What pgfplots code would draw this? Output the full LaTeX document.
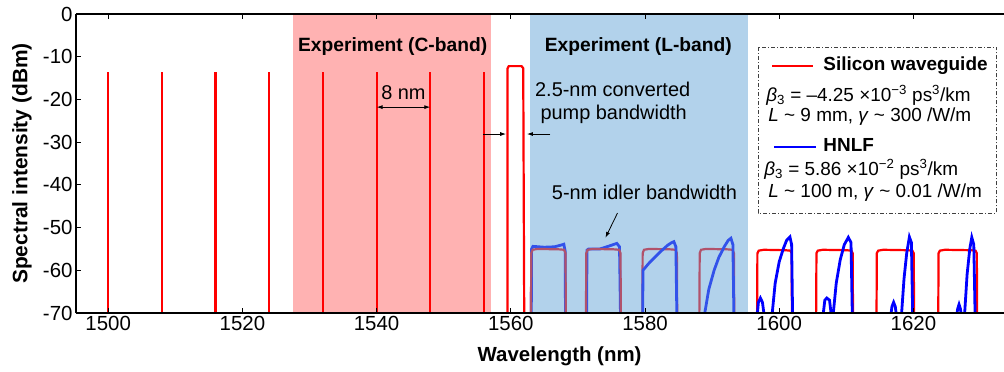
\documentclass[border=0pt]{standalone}
\usepackage{fontspec}
\setmainfont{Liberation Sans}
\usepackage{pgfplots}
\pgfplotsset{compat=1.18}
\usetikzlibrary{arrows.meta}
\definecolor{sigred}{RGB}{255,0,0}
\definecolor{hnlfblue}{RGB}{0,0,255}
\definecolor{cband}{RGB}{255,178,178}
\definecolor{lband}{RGB}{101,165,215}
\begin{document}
\begin{tikzpicture}
\begin{axis}[
 scale only axis, width=930bp, height=299bp,
 xmin=1495.2, xmax=1633.8, ymin=-70, ymax=0,
 axis x line=box, axis y line=left,
 axis line style={-, line width=1.3bp, black},
 xtick={1500,1520,...,1620}, ytick={-70,-60,...,0},
 tick align=inside, major tick length=5bp,
 tick style={black, line width=1bp},
 ticklabel style={font=\fontsize{20.5}{24}\selectfont},
 /pgf/number format/assume math mode=true,
 /pgf/number format/1000 sep={},
 xlabel={\textbf{Wavelength (nm)}},
 ylabel={\textbf{Spectral intensity (dBm)}},
 every axis x label/.style={at={(rel axis cs:0.52,-0.144)}, anchor=center, font=\fontsize{20.5}{24}\selectfont},
 every axis y label/.style={at={(rel axis cs:-0.058,0.5)}, anchor=center, rotate=90, font=\fontsize{21}{24}\selectfont},
 axis on top,
 unbounded coords=jump,
 clip=true,
]
% shaded experiment bands (C-band below the data)
\addplot[fill=cband, draw=none] coordinates {(1527.6,-71)(1527.6,1)(1557.1,1)(1557.1,-71)};

% signal lines (silicon waveguide)
\addplot[sigred, line width=2.2bp] coordinates {
 (1500,-71)(1500,-13.5)(1500,nan)
 (1508,-71)(1508,-13.5)(1508,nan)
 (1516,-71)(1516,-13.5)(1516,nan)
 (1524,-71)(1524,-13.5)(1524,nan)
 (1532,-71)(1532,-13.5)(1532,nan)
 (1540,-71)(1540,-13.5)(1540,nan)
 (1548,-71)(1548,-13.5)(1548,nan)
 (1556,-71)(1556,-13.5)
};
% converted pump
\addplot[sigred, line width=2.2bp] coordinates {
 (1559.5,-71)(1559.5,-12.8)(1559.7,-12.2)(1561.6,-12.2)(1561.85,-12.7)(1562.0,-71)
};
% HNLF idlers 1-2 (below red)
\addplot[hnlfblue, line width=2.8bp] coordinates {
 (1563.05,-71)(1563.1,-55)(1563.3,-54.4)(1565,-54.6)(1566.5,-54.5)(1567.5,-54.1)(1567.9,-53.9)(1568.1,-55.5)(1568.15,-71)(1568.15,nan)
 (1571.3,-71)(1571.35,-55.3)(1571.6,-55)(1573.3,-55)(1574.5,-54.4)(1575.8,-53.7)(1576.2,-54.5)(1576.35,-71)
};
% silicon idlers
\addplot[sigred, line width=2.2bp] coordinates {
 (1563.0,-71)(1563.05,-56)(1563.25,-55.2)(1564,-55)(1567.2,-55.1)(1567.95,-55.2)(1568.15,-56)(1568.2,-71)(1568.2,nan)
 (1571.2,-71)(1571.25,-56)(1571.45,-55.2)(1572.2,-55)(1575.4,-55.1)(1576.15,-55.2)(1576.35,-56)(1576.4,-71)(1576.4,nan)
 (1579.6,-71)(1579.65,-56)(1579.85,-55.2)(1580.6,-55)(1583.8,-55.1)(1584.55,-55.2)(1584.75,-56)(1584.8,-71)(1584.8,nan)
 (1588.1,-71)(1588.15,-56)(1588.35,-55.2)(1589.1,-55)(1592.3,-55.1)(1593.05,-55.2)(1593.25,-56)(1593.3,-71)(1593.3,nan)
 (1596.7,-71)(1596.75,-56)(1596.95,-55.4)(1597.7,-55.2)(1600.9,-55.3)(1601.65,-55.4)(1601.85,-56)(1601.9,-71)(1601.9,nan)
 (1605.5,-71)(1605.55,-56)(1605.75,-55.4)(1606.5,-55.2)(1610.0,-55.3)(1610.75,-55.4)(1610.95,-56)(1611.0,-71)(1611.0,nan)
 (1614.5,-71)(1614.55,-56)(1614.75,-55.4)(1615.5,-55.2)(1619.1,-55.3)(1619.85,-55.4)(1620.05,-56)(1620.1,-71)(1620.1,nan)
 (1623.7,-71)(1623.75,-56)(1623.95,-55.4)(1624.7,-55.2)(1628.5,-55.3)(1629.25,-55.4)(1629.45,-56)(1629.5,-71)
};
% HNLF idlers 3-8 (above red)
\addplot[hnlfblue, line width=2.8bp] coordinates {
 (1579.65,-71)(1579.7,-60)(1580.5,-58.5)(1581.3,-57.2)(1582.4,-55.5)(1583.4,-54.1)(1584.0,-53.5)(1584.3,-53.3)(1584.6,-54.5)(1584.75,-71)(1584.75,nan)
 (1588.8,-71)(1589.5,-64.5)(1590.3,-60)(1591.0,-57)(1591.8,-54.5)(1592.4,-53)(1592.8,-52.5)(1593.1,-54)(1593.25,-71)(1593.25,nan)
 (1596.7,-71)(1596.9,-67.5)(1597.2,-66.5)(1597.5,-67.5)(1597.8,-71)(1597.8,nan)
 (1598.9,-71)(1599.4,-63)(1600.0,-58)(1600.6,-55)(1601.1,-53)(1601.6,-52.2)(1601.85,-54)(1602.0,-71)(1602.0,nan)
 (1606.5,-71)(1606.8,-67)(1607.1,-66.5)(1607.5,-67)(1607.8,-71)(1607.8,nan)
 (1608.0,-71)(1608.5,-63)(1609.1,-57.5)(1609.7,-54)(1610.3,-52.3)(1610.7,-53.5)(1610.9,-71)(1610.9,nan)
 (1616.6,-71)(1616.8,-68.5)(1617.05,-67.5)(1617.3,-68.5)(1617.5,-71)(1617.5,nan)
 (1618.2,-71)(1618.6,-62)(1619.0,-56)(1619.4,-52.2)(1619.7,-53.5)(1619.9,-71)(1619.9,nan)
 (1626.4,-71)(1626.6,-69)(1626.8,-68)(1627.0,-69)(1627.2,-71)(1627.2,nan)
 (1627.6,-71)(1628.0,-61)(1628.4,-55)(1628.7,-52.3)(1629.0,-54)(1629.2,-71)
};
% L-band shading (over the data)
\addplot[fill=lband, fill opacity=0.5, draw=none] coordinates {(1562.9,-71)(1562.9,1)(1595.4,1)(1595.4,-71)};

% annotations
\node[anchor=mid, font=\fontsize{19.3}{22}\selectfont\bfseries] at (axis cs:1542.4,-8.2) {Experiment (C-band)};
\node[anchor=mid, font=\fontsize{19.3}{22}\selectfont\bfseries] at (axis cs:1579.0,-8.2) {Experiment (L-band)};
\node[anchor=mid, font=\fontsize{20}{24}\selectfont] at (axis cs:1544.0,-19.3) {8 nm};
\draw[{Latex[length=6bp,width=4bp]}-{Latex[length=6bp,width=4bp]}, line width=0.8bp] (axis cs:1540,-21.8) -- (axis cs:1548,-21.8);
\node[anchor=mid west, inner sep=0, font=\fontsize{20}{24}\selectfont] at (axis cs:1563.6,-18.6) {2.5-nm converted};
\node[anchor=mid west, inner sep=0, font=\fontsize{20}{24}\selectfont] at (axis cs:1564.4,-24.0) {pump bandwidth};
\draw[-{Latex[length=6bp,width=4bp]}, line width=0.8bp] (axis cs:1555.9,-28.1) -- (axis cs:1559.3,-28.1);
\draw[-{Latex[length=6bp,width=4bp]}, line width=0.8bp] (axis cs:1565.9,-28.1) -- (axis cs:1562.4,-28.1);
\node[anchor=mid west, inner sep=0, font=\fontsize{20}{24}\selectfont] at (axis cs:1566.1,-42.8) {5-nm idler bandwidth};
\draw[-{Latex[length=6bp,width=4bp]}, line width=0.8bp] (axis cs:1575.9,-46.6) -- (axis cs:1574.1,-52.4);

% legend
\fill[white] (axis cs:1596.87,-7.73) rectangle (axis cs:1632.39,-46.59);
\draw[black!75, line width=0.9bp, dash pattern=on 4bp off 2bp on 1bp off 2bp] (axis cs:1596.87,-7.73) rectangle (axis cs:1632.39,-46.59);
\draw[sigred, line width=1.6bp] (axis cs:1598.96,-12.17) -- (axis cs:1605.07,-12.17);
\node[anchor=mid west, inner sep=0, font=\fontsize{19}{22}\selectfont\bfseries] at (axis cs:1606.57,-12.6) {Silicon waveguide};
\node[anchor=mid west, inner sep=0, font=\fontsize{19}{22}\selectfont] at (axis cs:1598.06,-19.8) {\textit{β}\textsubscript{3} = –4.25 ×10\textsuperscript{−3} ps\textsuperscript{3}/km};
\node[anchor=mid west, inner sep=0, font=\fontsize{19}{22}\selectfont] at (axis cs:1598.36,-24.5) {\textit{L} \textasciitilde\ 9 mm, \textit{γ} \textasciitilde\ 300 /W/m};
\draw[hnlfblue, line width=1.6bp] (axis cs:1599.25,-31.14) -- (axis cs:1605.52,-31.14);
\node[anchor=mid west, inner sep=0, font=\fontsize{19}{22}\selectfont\bfseries] at (axis cs:1606.57,-31.5) {HNLF};
\node[anchor=mid west, inner sep=0, font=\fontsize{19}{22}\selectfont] at (axis cs:1597.76,-37.1) {\textit{β}\textsubscript{3} = 5.86 ×10\textsuperscript{−2} ps\textsuperscript{3}/km};
\node[anchor=mid west, inner sep=0, font=\fontsize{19}{22}\selectfont] at (axis cs:1598.36,-42.3) {\textit{L} \textasciitilde\ 100 m, \textit{γ} \textasciitilde\ 0.01 /W/m};

\coordinate (bbSW) at (rel axis cs:0,0);
\coordinate (bbNE) at (rel axis cs:1,1);
\end{axis}
\pgfresetboundingbox
\path ([xshift=-76bp,yshift=-59bp]bbSW) rectangle ([xshift=-2bp,yshift=14bp]bbNE);
\end{tikzpicture}
\end{document}
